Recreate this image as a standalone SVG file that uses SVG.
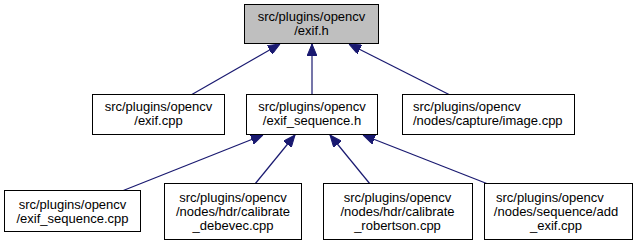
<svg xmlns="http://www.w3.org/2000/svg" width="637" height="245" viewBox="0 0 637 245">
  <style>
    .node rect { fill: #ffffff; stroke: #000000; stroke-width: 1; }
    .node.current rect { fill: #bfbfbf; }
    .node text { font-family: "Liberation Sans", Arial, Helvetica, sans-serif; font-size: 13px; fill: #000000; text-anchor: middle; }
    .node text.left { text-anchor: start; }
    .edges path { fill: none; stroke: #191970; stroke-width: 1.2; marker-end: url(#arrow); }
  </style>
  <defs>
    <marker id="arrow" viewBox="0 0 12 10" refX="12" refY="5" markerWidth="12" markerHeight="10" markerUnits="userSpaceOnUse" orient="auto">
      <path d="M0,0 L12,5 L0,10 z" fill="#191970" stroke="#191970" stroke-width="1"/>
    </marker>
  </defs>

  <!-- include dependency edges: each including file points at the header it uses -->
  <g id="edges" class="edges">
    <path d="M191,95 L280,44"/>
    <path d="M312,95 L312,44"/>
    <path d="M450,95 L349,44"/>
    <path d="M122,191 L263,135"/>
    <path d="M255,184 L295,135"/>
    <path d="M370,184 L330,135"/>
    <path d="M488,184 L363,135"/>
  </g>

  <g id="node-exif-h" class="node current">
    <rect x="244.5" y="4.5" width="134" height="39"/>
    <text x="311.5" y="20.5">src/plugins/opencv</text>
    <text x="311.5" y="34.5">/exif.h</text>
  </g>

  <g id="node-exif-cpp" class="node">
    <rect x="92.5" y="94.5" width="132" height="40"/>
    <text x="158.5" y="111">src/plugins/opencv</text>
    <text x="158.5" y="125">/exif.cpp</text>
  </g>

  <g id="node-exif-sequence-h" class="node">
    <rect x="246.5" y="94.5" width="131" height="40"/>
    <text x="312" y="111">src/plugins/opencv</text>
    <text x="312" y="125">/exif_sequence.h</text>
  </g>

  <g id="node-capture-image-cpp" class="node">
    <rect x="402.5" y="94.5" width="172" height="40"/>
    <text class="left" x="413" y="111">src/plugins/opencv</text>
    <text class="left" x="413" y="125">/nodes/capture/image.cpp</text>
  </g>

  <g id="node-exif-sequence-cpp" class="node">
    <rect x="4.5" y="190.5" width="136" height="41"/>
    <text x="72.5" y="208.5">src/plugins/opencv</text>
    <text x="72.5" y="222.5">/exif_sequence.cpp</text>
  </g>

  <g id="node-calibrate-debevec-cpp" class="node">
    <rect x="164.5" y="183.5" width="137" height="56"/>
    <text x="233" y="202">src/plugins/opencv</text>
    <text x="233" y="216">/nodes/hdr/calibrate</text>
    <text x="233" y="230">_debevec.cpp</text>
  </g>

  <g id="node-calibrate-robertson-cpp" class="node">
    <rect x="323.5" y="183.5" width="149" height="56"/>
    <text x="397.5" y="202">src/plugins/opencv</text>
    <text x="397.5" y="216">/nodes/hdr/calibrate</text>
    <text x="397.5" y="230">_robertson.cpp</text>
  </g>

  <g id="node-add-exif-cpp" class="node">
    <rect x="484.5" y="183.5" width="148" height="56"/>
    <text class="left" x="496" y="202">src/plugins/opencv</text>
    <text x="556" y="216">/nodes/sequence/add</text>
    <text x="556" y="230">_exif.cpp</text>
  </g>
</svg>
